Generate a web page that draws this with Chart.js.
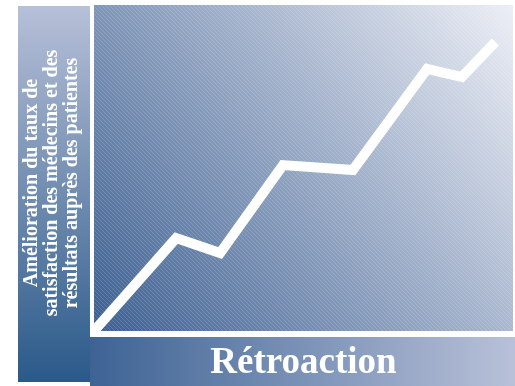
<!DOCTYPE html>
<html><head><meta charset="utf-8">
<script src="https://cdn.jsdelivr.net/npm/chart.js@4.4.1/dist/chart.umd.min.js"></script>
<style>html,body{margin:0;padding:0;background:#fff}#wrap{width:515px;height:386px;position:relative}</style>
</head><body><div id="wrap"><canvas id="c"></canvas></div>
<script>
// Data (axes run 0..100, unlabelled)
const xValues = [0, 19.6, 30.1, 45.1, 61.8, 79.5, 87.8, 95.8];
const yValues = [0, 28.5, 23.9, 50.9, 49.4, 80.4, 77.9, 88.7];
const yTitleLines = ['Amélioration du taux de', 'satisfaction des médecins et des', 'résultats auprès des patientes'];
const xTitle = 'Rétroaction';

const points = xValues.map((x, i) => ({x: x, y: yValues[i]}));
const SERIF = "'Liberation Serif', 'Times New Roman', serif";

function makeHatch(ctx) {
  const p = document.createElement('canvas');
  p.width = 4; p.height = 4;
  const pc = p.getContext('2d');
  pc.fillStyle = 'rgba(255,255,255,0.16)';
  for (let i = 0; i < 4; i++) pc.fillRect(i, i, 1, 1);
  return ctx.createPattern(p, 'repeat');
}

const backdrop = {
  id: 'backdrop',
  beforeDraw(chart) {
    const ctx = chart.ctx, a = chart.chartArea;
    ctx.save();
    ctx.fillStyle = '#ffffff';
    ctx.fillRect(0, 0, chart.width, chart.height);
    // left bar
    let g = ctx.createLinearGradient(0, 6, 0, 382);
    g.addColorStop(0, '#b7c0d8');
    g.addColorStop(1, '#2a5989');
    ctx.fillStyle = g;
    ctx.fillRect(18, 6, 72, 376);
    // bottom bar
    g = ctx.createLinearGradient(90, 0, chart.width, 0);
    g.addColorStop(0, '#3d6394');
    g.addColorStop(1, '#b9c1d9');
    ctx.fillStyle = g;
    ctx.fillRect(90, a.bottom + 6, chart.width - 90, chart.height - a.bottom - 6);
    // plot area
    g = ctx.createLinearGradient(a.left, a.bottom, a.right, a.top);
    g.addColorStop(0, '#3c5f90');
    g.addColorStop(1, '#eceef5');
    ctx.fillStyle = g;
    ctx.fillRect(a.left, a.top, a.right - a.left, a.bottom - a.top);
    ctx.fillStyle = makeHatch(ctx);
    ctx.fillRect(a.left, a.top, a.right - a.left, a.bottom - a.top);
    ctx.restore();
  }
};

new Chart(document.getElementById('c'), {
  type: 'line',
  data: {
    datasets: [{
      data: points,
      borderColor: '#ffffff',
      borderWidth: 10,
      pointRadius: 0,
      tension: 0,
      borderJoinStyle: 'miter',
      borderCapStyle: 'butt',
      clip: 0,
      fill: false
    }]
  },
  options: {
    responsive: true,
    maintainAspectRatio: false,
    animation: false,
    devicePixelRatio: 1,
    layout: {padding: {left: 0, top: 5, right: 2, bottom: 25}},
    plugins: {
      legend: {display: false},
      tooltip: {enabled: false},
      title: {
        display: true,
        position: 'left',
        align: 'center',
        text: yTitleLines,
        color: '#ffffff',
        font: {family: SERIF, size: 20, weight: 'bold', lineHeight: 1},
        padding: {top: 22, bottom: 12}
      }
    },
    scales: {
      x: {
        type: 'linear', min: 0, max: 100, display: true,
        ticks: {display: false},
        grid: {display: false, drawTicks: false},
        border: {display: false},
        title: {
          display: true, text: xTitle, color: '#ffffff',
          font: {family: SERIF, size: 37, weight: 'bold', lineHeight: 1},
          padding: {top: 14, bottom: -21}
        }
      },
      y: {type: 'linear', min: 0, max: 100, display: false}
    }
  },
  plugins: [backdrop]
});
</script>
</body></html>
